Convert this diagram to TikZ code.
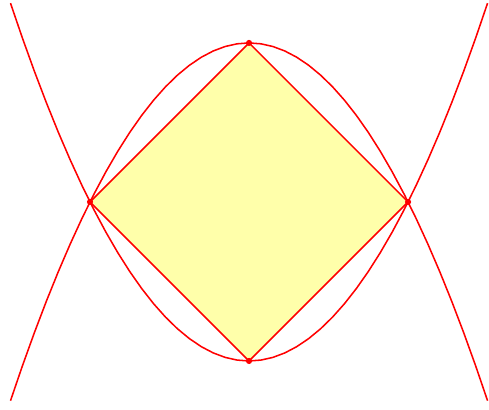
\documentclass[tikz,border=0pt]{standalone}
\usepackage{xcolor}
\usepackage{tikz}
\definecolor{pfill}{HTML}{FFFFAA}
\tikzset{
  curve/.style={draw=red, line width=0.55pt},
  pdot/.style={circle, fill=red, inner sep=0pt, minimum size=2.2pt}
}

\begin{document}
\begin{tikzpicture}[x=2cm, y=2cm]
  \useasboundingbox (-1.566,-1.308) rectangle (1.509,1.270);
  \coordinate (top) at (0,1);
  \coordinate (lft) at (-1,0);
  \coordinate (rgt) at (1,0);
  \coordinate (bot) at (0,-1);

  \filldraw[curve, fill=pfill] (top) -- (rgt) -- (bot) -- (lft) -- cycle;
  \draw[curve] plot[domain=-1.5:1.5, samples=41] (\x, {\x*\x-1});
  \draw[curve] plot[domain=-1.5:1.5, samples=41] (\x, {1-\x*\x});

  \foreach \p in {top, lft, rgt, bot}
    \node[pdot] at (\p) {};
\end{tikzpicture}
\end{document}
